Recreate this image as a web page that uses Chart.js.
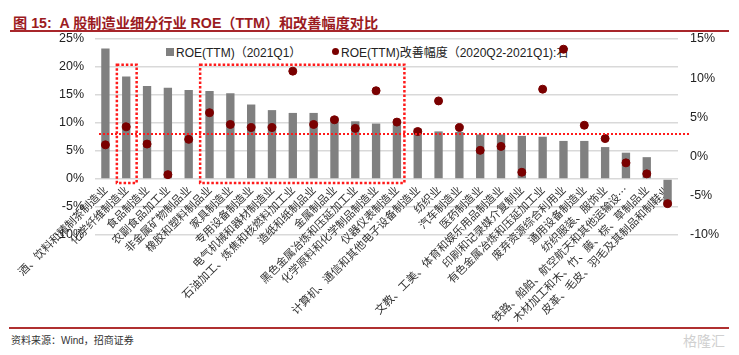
<!DOCTYPE html>
<html>
<head>
<meta charset="utf-8">
<script src="https://cdn.jsdelivr.net/npm/chart.js@4.4.1/dist/chart.umd.min.js"></script>
<style>
  html, body { margin: 0; padding: 0; background: #fff; }
  body { width: 739px; height: 355px; position: relative; overflow: hidden;
         font-family: 'Liberation Sans', Arial, 'Noto Sans CJK SC', sans-serif; }
  #title { position: absolute; left: 13px; top: 12px; font-size: 14.2px; font-weight: bold;
           color: #9b1b1f; white-space: nowrap;
           font-family: 'Liberation Sans', Arial, 'Noto Sans CJK SC', sans-serif; }
  #topline { position: absolute; left: 10px; right: 10px; top: 30px; height: 1.5px; background: #a8262b; }
  #botline { position: absolute; left: 9px; right: 10px; top: 327px; height: 1.5px; background: #b03030; }
  #source { position: absolute; left: 11px; top: 332px; font-size: 10px; color: #333; white-space: nowrap; }
  #mark { position: absolute; left: 683px; top: 330px; font-size: 14px; color: #d0d0d0; white-space: nowrap;
          font-family: 'Noto Sans CJK SC', sans-serif; }
  #legend { position: absolute; top: 43px; left: 0; font-size: 12px; color: #222; white-space: nowrap; z-index: 0; }
  .lg { position: absolute; top: 0; display: flex; align-items: center; }
  .sq { width: 8px; height: 8px; background: #808080; margin-right: 2px; }
  .dot { width: 7px; height: 7px; border-radius: 50%; background: #7a0000; margin-right: 2px; }
  #c { position: absolute; left: 0; top: 0; z-index: 1; }
</style>
</head>
<body>
<div id="title">图 15:&nbsp; A 股制造业细分行业 ROE（TTM）和改善幅度对比</div>
<div id="topline"></div>
<div id="legend">
  <div class="lg" style="left:166px"><span class="sq"></span><span>ROE(TTM)（2021Q1）</span></div>
  <div class="lg" style="left:332px"><span class="dot"></span><span>ROE(TTM)改善幅度（2020Q2-2021Q1):右</span></div>
</div>
<canvas id="c" width="739" height="355"></canvas>
<div id="botline"></div>
<div id="source">资料来源：Wind，招商证券</div>
<div id="mark">格隆汇</div>
<script>
// ---- data ----
const categories = [
  '酒、饮料和精制茶制造业', '化学纤维制造业', '食品制造业', '农副食品加工业',
  '非金属矿物制品业', '橡胶和塑料制品业', '家具制造业', '专用设备制造业',
  '电气机械和器材制造业', '石油加工、炼焦和核燃料加工业', '造纸和纸制品业', '金属制品业',
  '黑色金属冶炼和压延加工业', '化学原料和化学制品制造业', '仪器仪表制造业',
  '计算机、通信和其他电子设备制造业', '纺织业', '汽车制造业', '医药制造业',
  '文教、工美、体育和娱乐用品制造业', '印刷和记录媒介复制业', '有色金属冶炼和压延加工业',
  '废弃资源综合利用业', '通用设备制造业', '纺织服装、服饰业',
  '铁路、船舶、航空航天和其他运输设…', '木材加工和木、竹、藤、棕、草制品业',
  '皮革、毛皮、羽毛及其制品和制鞋业'
];
const roe2021Q1 = [23.3, 18.3, 16.6, 16.3, 15.9, 15.7, 15.3, 13.3, 12.3, 11.8, 11.8, 11.0, 10.3, 9.9,
                   9.7, 9.0, 8.5, 8.4, 7.95, 7.95, 7.7, 7.55, 6.8, 6.8, 5.7, 4.7, 3.9, -4.8];
const roeImprovement = [1.5, 3.8, 1.6, -2.3, 2.2, 5.6, 4.1, 3.7, 3.7, 10.9, 4.1, 4.7, 3.6, 8.4,
                        4.4, 3.2, 7.1, 3.7, 0.8, 1.3, -2.0, 8.6, 13.7, 4.0, 2.3, -0.8, -2.2, -6.0];
const leftTicks = { min: -10, max: 25, step: 5 };
const rightTicks = { min: -10, max: 15, step: 5 };
const averageRoe = 8;                      // red dotted reference line (left axis)
const highlightGroups = [[1, 1], [5, 14]]; // category index ranges framed by red dotted boxes

// ---- decorations drawn through the scales ----
const decorations = {
  id: 'decorations',
  afterDatasetsDraw(chart) {
    const { ctx, chartArea, scales } = chart;
    const x = scales.x, y = scales.y;
    const w = x.getPixelForValue(1) - x.getPixelForValue(0);
    ctx.save();
    ctx.strokeStyle = '#ff1a1a';
    ctx.lineWidth = 2;
    ctx.setLineDash([2, 2]);
    const yy = Math.round(y.getPixelForValue(averageRoe));
    ctx.beginPath();
    ctx.moveTo(chartArea.left + 4, yy);
    ctx.lineTo(chartArea.right + 12, yy);
    ctx.stroke();
    ctx.lineWidth = 2.5;
    ctx.setLineDash([2.5, 2]);
    const top = y.getPixelForValue(20.4), bottom = y.getPixelForValue(-0.7);
    highlightGroups.forEach(([a, b]) => {
      const x0 = x.getPixelForValue(a) - 0.45 * w;
      const x1 = x.getPixelForValue(b) + (a === b ? 0.5 : 0.36) * w;
      ctx.strokeRect(x0, top, x1 - x0, bottom - top);
    });
    ctx.restore();
  }
};

const tickFont = { family: "'Liberation Sans', Arial, sans-serif", size: 12.5 };

new Chart(document.getElementById('c'), {
  data: {
    labels: categories,
    datasets: [
      {
        type: 'line', label: 'ROE(TTM)改善幅度（2020Q2-2021Q1):右', data: roeImprovement,
        yAxisID: 'y1', showLine: false, pointRadius: 4, pointHoverRadius: 4,
        pointBackgroundColor: '#7a0000', pointBorderColor: '#7a0000', order: 0
      },
      {
        type: 'bar', label: 'ROE(TTM)（2021Q1）', data: roe2021Q1, yAxisID: 'y',
        backgroundColor: '#808080', barPercentage: 0.4, categoryPercentage: 1, order: 1
      }
    ]
  },
  options: {
    responsive: false,
    animation: false,
    devicePixelRatio: 1,
    layout: { padding: { top: 39, bottom: 120, left: 0, right: 0 } },
    plugins: { legend: { display: false }, tooltip: { enabled: false }, title: { display: false } },
    scales: {
      x: {
        position: { y: 0 },
        grid: { display: false, drawTicks: false },
        border: { display: false },
        ticks: {
          autoSkip: false, minRotation: 45, maxRotation: 45, padding: 4,
          color: '#333', font: { family: "'Noto Sans CJK SC', sans-serif", size: 11 }
        }
      },
      y: {
        position: 'left',
        min: leftTicks.min, max: leftTicks.max,
        afterFit(s) { s.width = 95; },
        grid: { color: '#d9d9d9', lineWidth: 1.5, drawTicks: false },
        border: { display: false },
        ticks: { stepSize: leftTicks.step, padding: 11, color: '#222', font: tickFont,
                 callback: v => v + '%' }
      },
      y1: {
        position: 'right',
        min: rightTicks.min, max: rightTicks.max,
        afterFit(s) { s.width = 61; },
        grid: { display: false, drawTicks: false },
        border: { display: false },
        ticks: { stepSize: rightTicks.step, padding: 12, color: '#222', font: tickFont,
                 callback: v => v + '%' }
      }
    }
  },
  plugins: [decorations]
});
</script>
</body>
</html>
